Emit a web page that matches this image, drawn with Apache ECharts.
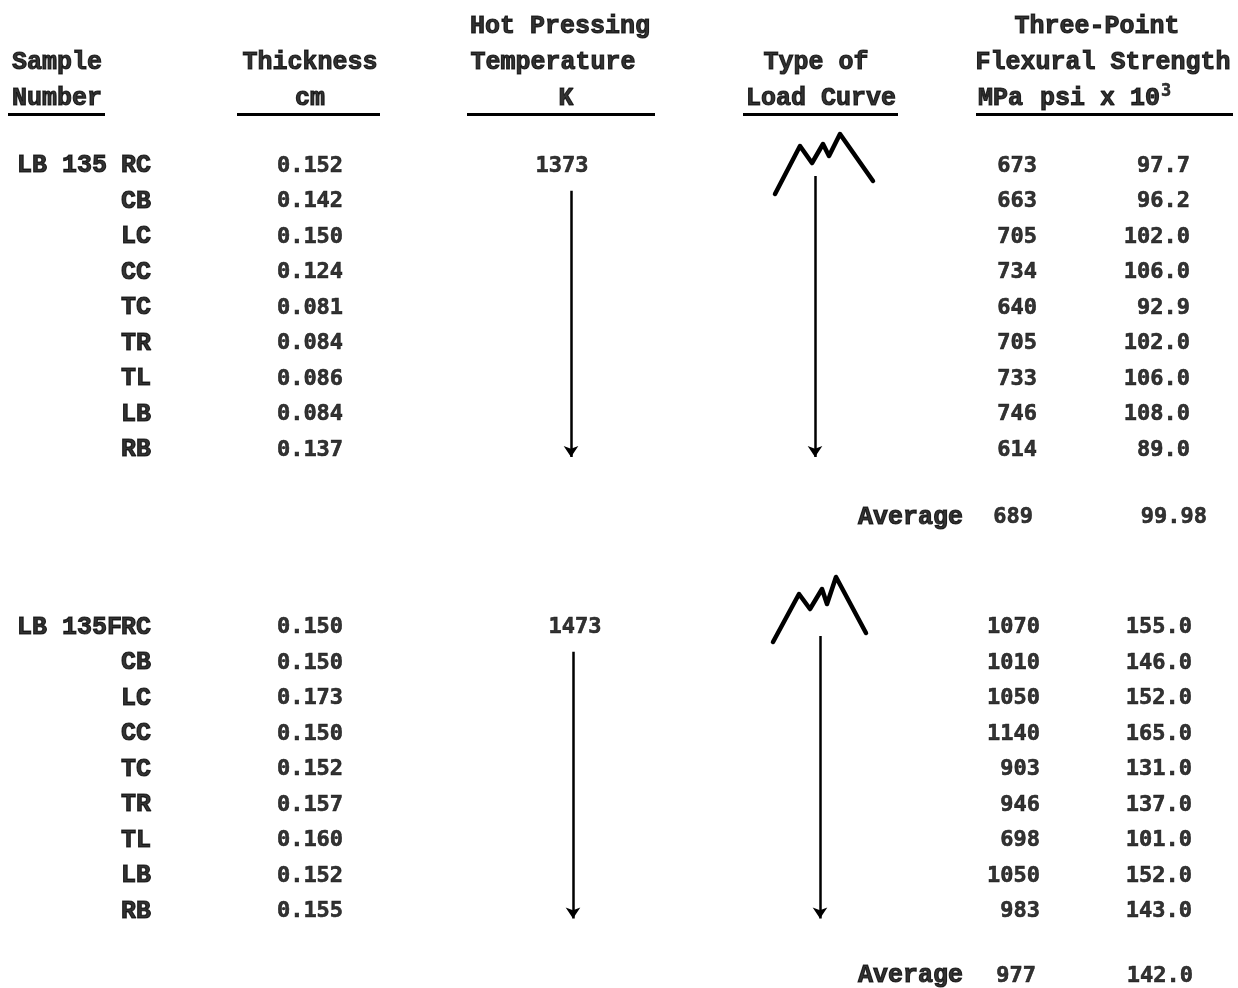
<!DOCTYPE html>
<html><head><meta charset="utf-8">
<script src="https://cdn.jsdelivr.net/npm/echarts@6/dist/echarts.min.js"></script>
<style>html,body{margin:0;padding:0;background:#fff}#c{width:1238px;height:988px}</style>
</head><body><div id="c"></div>
<script>
// ---------- DATA ----------
const sampleCodes = ['RC', 'CB', 'LC', 'CC', 'TC', 'TR', 'TL', 'LB', 'RB'];
const samplePrefixes = ['LB 135', 'LB 135F'];
const thickness1 = [0.152, 0.142, 0.150, 0.124, 0.081, 0.084, 0.086, 0.084, 0.137];
const thickness2 = [0.150, 0.150, 0.173, 0.150, 0.152, 0.157, 0.160, 0.152, 0.155];
const temperatures = [1373, 1473];
const mpa1 = [673, 663, 705, 734, 640, 705, 733, 746, 614];
const psi1 = ['97.7', '96.2', '102.0', '106.0', '92.9', '102.0', '106.0', '108.0', '89.0'];
const mpa2 = [1070, 1010, 1050, 1140, 903, 946, 698, 1050, 983];
const psi2 = ['155.0', '146.0', '152.0', '165.0', '131.0', '137.0', '101.0', '152.0', '143.0'];
const avgMpa = [689, 977];
const avgPsi = ['99.98', '142.0'];
const headerRow1 = ['Hot Pressing', 'Three-Point'];
const headerRow2 = ['Sample', 'Thickness', 'Temperature', 'Type of', 'Flexural Strength'];
const headerRow3 = ['Number', 'cm', 'K', 'Load Curve', 'MPa', 'psi x 10'];
const averageLabel = 'Average';

// ---------- LAYOUT ----------
const W = 1238, H = 988;
const ROW0_PX = 166, ROW_PITCH = 35.5;
const ROW_MIN = -ROW0_PX / ROW_PITCH, ROW_MAX = (H - ROW0_PX) / ROW_PITCH;
const BLOCK_START = [0, 13];
const AVG_OFFSET = [9.9, 9.82];
const HEAD_ROWS = [-3.92, -2.9, -1.9];
const UNDERLINE_ROW = -1.47;
const PREFIX_LEFT = 17, CODE_RIGHT = 151, THICK_X = 310;
const TEMP_X = [562, 575];
const MPA_RIGHT = [1037, 1040], PSI_RIGHT = [1190, 1192];
const AVG_LABEL_LEFT = 858, AVG_MPA_RIGHT = [1033, 1036], AVG_PSI_RIGHT = [1207, 1193];
const HEAD1_X = [560, 1097];
const HEAD2_X = [57, 310, 553, 816, 1103];
const HEAD3 = [{x: 12, a: 'left'}, {x: 310, a: 'center'}, {x: 566, a: 'center'}, {x: 821, a: 'center'}, {x: 978, a: 'left'}, {x: 1040, a: 'left'}];
const UNDERLINES = [[8, 105], [237, 380], [467, 655], [743, 898], [976, 1233]];
const TEMP_ARROW = {x: [571, 573], from: [0.7, 0.68], to: 8.2};
const CURVE_ARROW = {x: [815, 820], from: [0.28, 0.24], to: 8.2};
const CURVE_ICON_X = [815, 820];
const CURVE_ICON = [
  {dx: [-40, -15, -3, 8, 14, 25, 58], dy: [28, -20, -3, -22, -10, -32, 15]},
  {dx: [-47, -21, -10, 2, 7, 16, 46], dy: [14.5, -33.5, -18.5, -38.5, -23.5, -50.5, 5.5]}
];

const INK = '#000';
const SERIF = 'Liberation Mono';
const SANS = 'DejaVu Sans Mono';
const heavy = {textBorderColor: INK, textBorderWidth: 1.1};
const headStyle = Object.assign({fontFamily: SERIF, fontWeight: 'bold', fontSize: 25, color: INK}, heavy);
const letterStyle = Object.assign({fontFamily: SERIF, fontWeight: 'bold', fontSize: 25, color: INK}, heavy);
const numStyle = Object.assign({fontFamily: SANS, fontWeight: 'bold', fontSize: 22, color: INK}, {textBorderColor: INK, textBorderWidth: 0.6});

function textSeries(name, items, style, align, rich) {
  return {
    name, type: 'scatter', symbolSize: 0, silent: true, z: 5,
    data: items.map(it => ({value: [it[0], it[1]], label: {formatter: it[2], align: it[3] || align}})),
    label: Object.assign({show: true, position: [0, 0], align: align, verticalAlign: 'middle', rich: rich}, style),
    emphasis: {disabled: true}
  };
}

const series = [];
series.push(textSeries('h1', headerRow1.map((t, i) => [HEAD1_X[i], HEAD_ROWS[0], t]), headStyle, 'center'));
series.push(textSeries('h2', headerRow2.map((t, i) => [HEAD2_X[i], HEAD_ROWS[1], t]), headStyle, 'center'));
series.push(textSeries('h3', headerRow3.map((t, i) => [HEAD3[i].x, HEAD_ROWS[2],
  i === 5 ? '{a|' + t + '}{s|3}' : t, HEAD3[i].a]), headStyle, 'center', {
  a: Object.assign({fontFamily: SERIF, fontWeight: 'bold', fontSize: 25, color: INK}, heavy),
  s: {fontFamily: SANS, fontWeight: 'bold', fontSize: 17, color: INK, textBorderColor: INK, textBorderWidth: 0.5, padding: [0, 0, 14, 1]}
}));

const blocks = [
  {thick: thickness1, mpa: mpa1, psi: psi1},
  {thick: thickness2, mpa: mpa2, psi: psi2}
];
blocks.forEach((b, k) => {
  const r0 = BLOCK_START[k];
  series.push(textSeries('prefix' + k, [[PREFIX_LEFT, r0, samplePrefixes[k]]], letterStyle, 'left'));
  series.push(textSeries('code' + k, sampleCodes.map((c, i) => [CODE_RIGHT, r0 + i, c]), letterStyle, 'right'));
  series.push(textSeries('thick' + k, b.thick.map((v, i) => [THICK_X, r0 + i, v.toFixed(3)]), numStyle, 'center'));
  series.push(textSeries('temp' + k, [[TEMP_X[k], r0, String(temperatures[k])]], numStyle, 'center'));
  series.push(textSeries('mpa' + k, b.mpa.map((v, i) => [MPA_RIGHT[k], r0 + i, String(v)]), numStyle, 'right'));
  series.push(textSeries('psi' + k, b.psi.map((v, i) => [PSI_RIGHT[k], r0 + i, v]), numStyle, 'right'));
  series.push(textSeries('avgL' + k, [[AVG_LABEL_LEFT, r0 + AVG_OFFSET[k], averageLabel]], letterStyle, 'left'));
  series.push(textSeries('avgM' + k, [[AVG_MPA_RIGHT[k], r0 + AVG_OFFSET[k], String(avgMpa[k])]], numStyle, 'right'));
  series.push(textSeries('avgP' + k, [[AVG_PSI_RIGHT[k], r0 + AVG_OFFSET[k], avgPsi[k]]], numStyle, 'right'));
  const ic = CURVE_ICON[k];
  series.push({
    name: 'curve' + k, type: 'line', symbol: 'none', silent: true, z: 4,
    data: ic.dx.map((dx, i) => [CURVE_ICON_X[k] + dx, r0 + ic.dy[i] / ROW_PITCH]),
    lineStyle: {color: INK, width: 4.5, cap: 'round', join: 'round'}
  });
});

const arrowLines = [];
[TEMP_ARROW, CURVE_ARROW].forEach(a => {
  BLOCK_START.forEach((r0, k) => {
    arrowLines.push([{coord: [a.x[k], r0 + a.from[k]]}, {coord: [a.x[k], r0 + a.to]}]);
  });
});
series.push({
  name: 'arrows', type: 'scatter', data: [], silent: true,
  markLine: {
    silent: true, animation: false, symbol: ['none', 'arrow'], symbolSize: 11,
    label: {show: false}, emphasis: {disabled: true},
    itemStyle: {color: INK},
    lineStyle: {color: INK, width: 2.5, type: 'solid'},
    data: arrowLines
  }
});
series.push({
  name: 'underlines', type: 'scatter', data: [], silent: true,
  markLine: {
    silent: true, animation: false, symbol: ['none', 'none'],
    label: {show: false}, emphasis: {disabled: true},
    lineStyle: {color: INK, width: 3, type: 'solid'},
    data: UNDERLINES.map(u => [{coord: [u[0], UNDERLINE_ROW]}, {coord: [u[1], UNDERLINE_ROW]}])
  }
});

const chart = echarts.init(document.getElementById('c'), null, {renderer: 'canvas'});
chart.setOption({
  animation: false,
  backgroundColor: '#fff',
  grid: {left: 0, right: 0, top: 0, bottom: 0, containLabel: false},
  xAxis: {type: 'value', min: 0, max: W, show: false},
  yAxis: {type: 'value', min: ROW_MIN, max: ROW_MAX, inverse: true, show: false},
  series
});
</script></body></html>
